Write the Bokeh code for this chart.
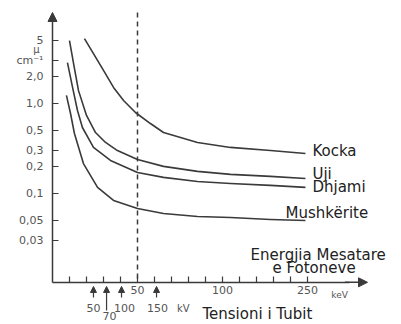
from bokeh.plotting import figure
from bokeh.models import Range1d, FixedTicker, LinearAxis, LogAxis, Arrow, NormalHead, ColumnDataSource
from bokeh.core.properties import value
from bokeh.embed import file_html
from bokeh.resources import INLINE

# ---- data (x in axis-tick units, y = attenuation coefficient, cm^-1) ----
kocka_x = [1.88, 2.41, 3.00, 3.59, 4.18, 4.88, 5.76, 6.53, 8.53, 10.47, 12.82, 14.88]
kocka_y = [5.27, 3.59, 2.33, 1.51, 1.08, 0.794, 0.599, 0.476, 0.369, 0.325, 0.300, 0.278]

uji_x = [1.0, 1.24, 1.53, 2.0, 2.53, 3.12, 3.82, 5.0, 6.53, 8.53, 10.47, 12.82, 14.88]
uji_y = [5.01, 2.78, 1.39, 0.736, 0.476, 0.369, 0.300, 0.239, 0.200, 0.176, 0.163, 0.155, 0.147]

dhjami_x = [0.88, 1.18, 1.47, 1.76, 2.41, 3.41, 5.0, 6.53, 8.53, 10.47, 12.82, 14.88]
dhjami_y = [2.85, 1.51, 0.836, 0.541, 0.325, 0.233, 0.171, 0.151, 0.136, 0.129, 0.123, 0.117]

mush_x = [0.82, 1.06, 1.29, 1.82, 2.65, 3.59, 5.0, 6.53, 8.53, 10.47, 12.82, 14.88]
mush_y = [1.23, 0.774, 0.464, 0.215, 0.117, 0.0836, 0.0681, 0.0599, 0.0555, 0.0541, 0.0514, 0.0501]

y_ticks = [0.03, 0.05, 0.1, 0.2, 0.3, 0.5, 1, 2, 3, 5]
y_tick_labels = ["0,03", "0,05", "0,1", "0,2", "0,3", "0,5", "1,0", "2,0", "cm\u207b\u00b9", "5"]

x_ticks = list(range(1, 16))
x_tick_labels = {5: "50", 10: "100", 15: "250"}

ref_line_x = 5          # 50 keV dashed line
tube_arrow_x = [2.41, 3.18, 4.06, 6.12]
tube_labels = ["50", "70", "100", "150"]

curve_names = ["Kocka", "Uji", "Dhjami", "Mushk\u00ebrite"]
name_x = [15.29, 15.29, 15.29, 13.71]
name_y = [0.30, 0.163, 0.117, 0.060]

ink = "#3a3a3a"
light = "#555555"
FONT = "DejaVu Sans"

Y_AXIS_AT = 0.0
X_AXIS_AT = 0.0103
Y_TOP, Y_BOT = 13.95, 0.0035

p = figure(width=401, height=324, output_backend="svg", toolbar_location=None,
           x_range=Range1d(-3.059, 20.53), y_range=Range1d(Y_BOT, Y_TOP),
           y_axis_type="log", x_axis_location=None, y_axis_location=None,
           min_border=0)
p.outline_line_color = None
p.grid.visible = False
p.background_fill_color = "white"

# axes
xa = LinearAxis(ticker=FixedTicker(ticks=x_ticks), fixed_location=X_AXIS_AT, bounds=(0, 17.5))
xa.major_label_overrides = {t: x_tick_labels.get(t, "") for t in x_ticks}
ya = LogAxis(ticker=FixedTicker(ticks=y_ticks), fixed_location=Y_AXIS_AT, bounds=(X_AXIS_AT, 9.0))
ya.major_label_overrides = {t: l for t, l in zip(y_ticks, y_tick_labels)}
for ax in (xa, ya):
    ax.axis_line_color = ink
    ax.axis_line_width = 1.5
    ax.major_tick_line_color = ink
    ax.major_tick_line_width = 1.2
    ax.major_tick_in = 6
    ax.major_tick_out = 0
    ax.minor_tick_line_color = None
    ax.major_label_text_font = FONT
    ax.major_label_text_font_size = "11px"
    ax.major_label_text_color = light
xa.major_label_standoff = 4
ya.major_label_standoff = 9
p.add_layout(xa, "below")
p.add_layout(ya, "left")

# axis arrow heads
p.add_layout(Arrow(end=NormalHead(size=9, fill_color=ink, line_color=ink),
                   x_start=0, y_start=8.5, x_end=0, y_end=10.26, line_color=ink, line_width=1.5))
p.add_layout(Arrow(end=NormalHead(size=9, fill_color=ink, line_color=ink),
                   x_start=17.2, y_start=X_AXIS_AT, x_end=18.53, y_end=X_AXIS_AT,
                   line_color=ink, line_width=1.5))

# dashed reference line
p.line([ref_line_x, ref_line_x], [10.26, X_AXIS_AT], line_color=ink, line_width=1.5, line_dash="5 4")

# curves
for xs, ys in [(kocka_x, kocka_y), (uji_x, uji_y), (dhjami_x, dhjami_y), (mush_x, mush_y)]:
    p.line(xs, ys, line_color=ink, line_width=1.6, line_join="round")

# curve names
src = ColumnDataSource(dict(x=name_x, y=name_y, t=curve_names))
p.text(x="x", y="y", text="t", source=src, text_font=value(FONT), text_font_size="15px",
       text_color="#222222", text_baseline="middle", text_align="left")

# mu symbol near the y unit
p.text(x=[-0.94], y=[3.98], text=["\u03bc"], text_font=value(FONT), text_font_size="10px",
       text_color=light, text_baseline="middle", text_align="center")

# keV after 250
p.text(x=[16.4], y=[0.0075], text=["keV"], text_font=value(FONT), text_font_size="9px",
       text_color=light, text_baseline="middle", text_align="left")

# axis title
p.text(x=[11.65, 12.94], y=[0.0205, 0.0147], text=["Energjia Mesatare", "e Fotoneve"],
       text_font=value(FONT), text_font_size="15px", text_color="#222222",
       text_baseline="middle", text_align="left")

# tube voltage arrows and labels
arrow_bot = [0.00699, 0.00501, 0.00699, 0.00699]
for xv, yb in zip(tube_arrow_x, arrow_bot):
    p.add_layout(Arrow(end=NormalHead(size=6, fill_color=ink, line_color=ink),
                       x_start=xv, y_start=yb, x_end=xv, y_end=0.00926,
                       line_color=ink, line_width=1.2))
tube_lbl_x = [2.41, 3.35, 4.24, 6.18]
tube_lbl_y = [0.00528, 0.0043, 0.00528, 0.00528]
p.text(x=tube_lbl_x, y=tube_lbl_y, text=tube_labels, text_font=value(FONT),
       text_font_size="11px", text_color=light, text_baseline="middle", text_align="center")
p.text(x=[7.7], y=[0.00528], text=["kV"], text_font=value(FONT), text_font_size="10px",
       text_color=light, text_baseline="middle", text_align="center")
p.text(x=[8.82], y=[0.00453], text=["Tensioni i Tubit"], text_font=value(FONT),
       text_font_size="15px", text_color="#222222", text_baseline="middle", text_align="left")

open("out.html", "w").write(file_html(p, INLINE))
